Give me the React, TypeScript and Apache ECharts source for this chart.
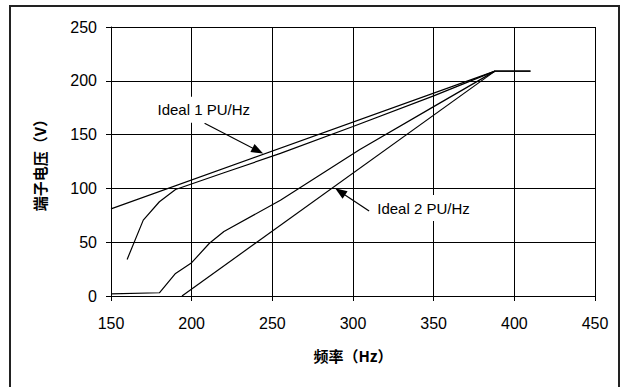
import React, { useEffect, useRef } from "react";
import * as echarts from "echarts";

// axis ranges / ticks
const xMin = 150;
const xMax = 450;
const xStep = 50;
const yMin = 0;
const yMax = 250;
const yStep = 50;

// series: frequency (Hz) vs terminal voltage (V)
const ideal1Freq = [150, 388, 410];
const ideal1Volt = [81, 209, 209];

const curveAFreq = [160, 170, 180, 190, 220, 255, 300, 350, 388, 410];
const curveAVolt = [34, 70.5, 87.6, 99, 114.5, 132.5, 157.5, 186, 209, 209];

const curveBFreq = [150, 180, 190, 200, 211, 220, 255, 304, 350, 388];
const curveBVolt = [2, 3, 21, 31, 49, 60, 89, 136, 176, 209];

const ideal2Freq = [194, 388];
const ideal2Volt = [0, 209];

// annotations (data coordinates)
const labelTexts = ["Ideal 1 PU/Hz", "Ideal 2 PU/Hz"];
const labelFreq = [207.5, 343.7];
const labelVolt = [173, 81.7];
const arrowFromFreq = [208, 310];
const arrowFromVolt = [160.5, 79];
const arrowToFreq = [241, 292];
const arrowToVolt = [135, 97];

const xTitle = "频率（Hz）";
const yTitle = "端子电压（V）";

const zip = (a: number[], b: number[]) => a.map((v, i) => [v, b[i]]);

export default function App() {
  const ref = useRef<HTMLDivElement>(null);
  useEffect(() => {
    document.body.style.margin = "0";
    if (!ref.current) return;
    const chart = echarts.init(ref.current, undefined, { renderer: "svg" });
    const lineStyle = { color: "#000", width: 1.2 };
    const mk = (name: string, data: number[][], extra: any = {}) => ({
      name,
      type: "line",
      data,
      symbol: "none",
      lineStyle,
      itemStyle: { color: "#000" },
      silent: true,
      ...extra,
    });
    chart.setOption({
      animation: false,
      backgroundColor: "#fff",
      textStyle: { fontFamily: "Liberation Sans" },
      grid: { left: 111, right: 26, top: 27, bottom: 91 },
      graphic: [
        {
          type: "rect",
          shape: { x: 10, y: 6, width: 609, height: 392 },
          style: { fill: "none", stroke: "#222", lineWidth: 2 },
          silent: true,
        },
      ],
      xAxis: {
        type: "value",
        min: xMin,
        max: xMax,
        interval: xStep,
        name: xTitle,
        nameLocation: "middle",
        nameGap: 52,
        nameTextStyle: {
          fontFamily: "Noto Sans CJK SC",
          fontWeight: "bold",
          fontSize: 15,
          color: "#000",
        },
        axisLine: { show: true, lineStyle: { color: "#000", width: 1 } },
        axisTick: { show: true, length: 5, lineStyle: { color: "#000" } },
        axisLabel: { color: "#000", fontSize: 16, margin: 19, fontFamily: "Liberation Sans" },
        splitLine: { show: true, lineStyle: { color: "#000", width: 1 } },
      },
      yAxis: {
        type: "value",
        min: yMin,
        max: yMax,
        interval: yStep,
        name: yTitle,
        nameLocation: "middle",
        nameGap: 64,
        nameTextStyle: {
          fontFamily: "Noto Sans CJK SC",
          fontWeight: "bold",
          fontSize: 15,
          color: "#000",
        },
        axisLine: { show: true, lineStyle: { color: "#000", width: 1 } },
        axisTick: { show: true, length: 5, lineStyle: { color: "#000" } },
        axisLabel: { color: "#000", fontSize: 16, margin: 14, fontFamily: "Liberation Sans" },
        splitLine: { show: true, lineStyle: { color: "#000", width: 1 } },
      },
      series: [
        mk("Ideal 1", zip(ideal1Freq, ideal1Volt), {
          markPoint: {
            silent: true,
            data: labelTexts.map((t, i) => ({
              coord: [labelFreq[i], labelVolt[i]],
              symbol: "rect",
              symbolSize: [102, 26],
              itemStyle: { color: "#fff" },
              label: {
                show: true,
                position: "inside",
                formatter: t,
                color: "#000",
                fontSize: 15,
                fontFamily: "Liberation Sans",
              },
            })),
          },
          markLine: {
            silent: true,
            symbol: ["none", "triangle"],
            symbolSize: [9, 12],
            lineStyle: { color: "#000", width: 1.2, type: "solid" },
            label: { show: false },
            data: arrowFromFreq.map((f, i) => [
              { coord: [f, arrowFromVolt[i]] },
              { coord: [arrowToFreq[i], arrowToVolt[i]] },
            ]),
          },
        }),
        mk("Curve A", zip(curveAFreq, curveAVolt)),
        mk("Curve B", zip(curveBFreq, curveBVolt)),
        mk("Ideal 2", zip(ideal2Freq, ideal2Volt)),
      ],
    });
    return () => chart.dispose();
  }, []);
  return <div ref={ref} style={{ width: 621, height: 387 }} />;
}
